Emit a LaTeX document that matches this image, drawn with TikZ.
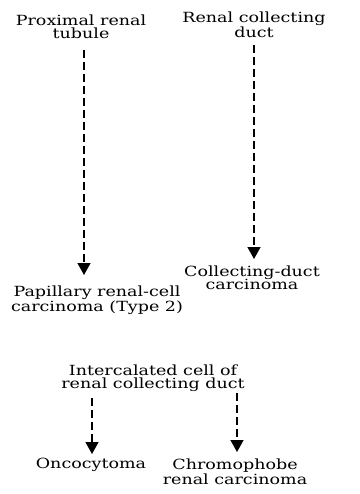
\documentclass[tikz,border=0pt]{standalone}
\usepackage{fontspec}
\setmainfont[FakeStretch=1.25]{DejaVu Serif}
\usetikzlibrary{arrows.meta}
\begin{document}
\begin{tikzpicture}[x=1pt,y=-1pt,
  lbl/.style={align=center,inner sep=0pt,font=\fontsize{14}{13.5}\selectfont},
  arr/.style={line width=1.4pt,dash pattern=on 8pt off 4pt,-{Triangle[width=13pt,length=12pt]}}]
\useasboundingbox (0,0) rectangle (359,494);
\node[lbl] (prox) at (81,27) {Proximal renal\\tubule};
\node[lbl] (rcd) at (254,25) {Renal collecting\\duct};
\node[lbl] (pap) at (97,300) {Papillary renal-cell\\carcinoma (Type 2)};
\node[lbl] (cdc) at (252,278) {Collecting-duct\\carcinoma};
\node[lbl] (inter) at (153,378) {Intercalated cell of\\renal collecting duct};
\node[lbl] (onco) at (91,465) {Oncocytoma};
\node[lbl] (chromo) at (235,472) {Chromophobe\\renal carcinoma};
\coordinate (a1s) at (84,50); \coordinate (a1e) at (84,275);
\coordinate (a2s) at (254,45); \coordinate (a2e) at (254,259);
\coordinate (a3s) at (92,398); \coordinate (a3e) at (92,454);
\coordinate (a4s) at (237,393); \coordinate (a4e) at (237,452);
\draw[arr] (a1s) -- (a1e);
\draw[arr] (a2s) -- (a2e);
\draw[arr] (a3s) -- (a3e);
\draw[arr] (a4s) -- (a4e);
\end{tikzpicture}
\end{document}
